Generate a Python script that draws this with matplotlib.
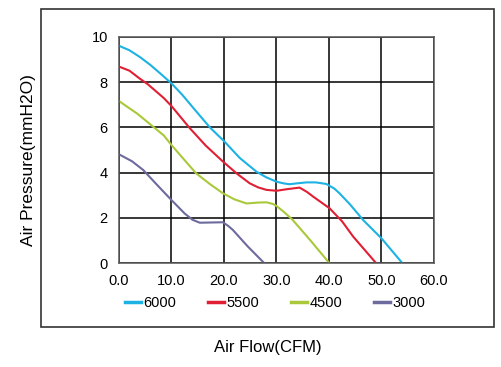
import matplotlib.pyplot as plt
from matplotlib.patches import Rectangle

plt.rcParams['font.family'] = ['Liberation Sans', 'DejaVu Sans']

# fan curves: airflow (CFM) vs pressure (mmH2O)
flow_6000 = [0, 2, 4, 6, 8, 10, 12, 14, 17.3, 20.1, 23, 26.2, 28, 30, 31.5, 32.5, 34, 35.7, 37.5, 39.5, 41, 42, 44, 46.5, 50, 54]
pres_6000 = [9.6, 9.4, 9.1, 8.75, 8.35, 7.94, 7.45, 6.9, 6.0, 5.37, 4.65, 4.04, 3.8, 3.6, 3.52, 3.49, 3.53, 3.57, 3.57, 3.5, 3.3, 3.09, 2.6, 1.91, 1.1, 0]

flow_5500 = [0, 2, 3.9, 5.5, 7, 8.5, 10, 13.5, 16.5, 19.8, 22.5, 24.9, 26.5, 28.1, 30, 32, 34.4, 35.8, 37, 40.1, 42.5, 44.6, 49]
pres_5500 = [8.68, 8.5, 8.16, 7.9, 7.6, 7.3, 6.94, 5.96, 5.2, 4.49, 3.95, 3.53, 3.35, 3.24, 3.2, 3.27, 3.34, 3.15, 2.94, 2.43, 1.85, 1.18, 0]

flow_4500 = [0, 3.5, 6.5, 8.5, 10, 12.5, 14.7, 17.3, 19.8, 22, 24.3, 26.5, 28.1, 29.3, 30, 31.5, 33.1, 36.5, 40.1]
pres_4500 = [7.16, 6.6, 6.03, 5.65, 5.22, 4.55, 3.97, 3.5, 3.09, 2.82, 2.64, 2.68, 2.69, 2.62, 2.53, 2.25, 1.91, 1.0, 0]

flow_3000 = [0, 2.5, 4.6, 7.5, 10, 12.5, 14, 15.4, 17.5, 19.8, 20.8, 21.7, 24.5, 27.7]
pres_3000 = [4.81, 4.5, 4.12, 3.4, 2.79, 2.2, 1.92, 1.79, 1.8, 1.81, 1.65, 1.47, 0.75, 0]

xticks = [0, 10, 20, 30, 40, 50, 60]
yticks = [0, 2, 4, 6, 8, 10]

fig = plt.figure(figsize=(5.02, 3.67), dpi=100)
ax = fig.add_axes([0.237, 0.2826, 0.6275, 0.6174])

ax.plot(flow_6000, pres_6000, color='#1cb2e4', lw=1.5, label='6000')
ax.plot(flow_5500, pres_5500, color='#e01f35', lw=1.5, label='5500')
ax.plot(flow_4500, pres_4500, color='#a9c83a', lw=1.5, label='4500')
ax.plot(flow_3000, pres_3000, color='#6d6a9e', lw=1.5, label='3000')

ax.set_xlim(0, 60)
ax.set_ylim(0, 10)
ax.set_xticks(xticks)
ax.set_xticklabels(['%.1f' % v for v in xticks])
ax.set_yticks(yticks)
ax.grid(True, color='black', lw=1.1)
ax.set_axisbelow(True)
ax.tick_params(length=0, labelsize=10.5, pad=8)
for s in ax.spines.values():
    s.set_color('#555555')
    s.set_linewidth(1.1)

fig.text(0.056, 0.564, 'Air Pressure(mmH2O)', fontsize=12.5, rotation=90, ha='center', va='center')
fig.text(0.533, 0.054, 'Air Flow(CFM)', fontsize=12, ha='center', va='center')

leg = fig.legend(loc='center', bbox_to_anchor=(0.548, 0.174), ncol=4, frameon=False,
                 handlelength=1.1, handletextpad=0.15, columnspacing=2.2, fontsize=10.5)
for h in leg.get_lines():
    h.set_linewidth(2.5)

fig.patches.append(Rectangle((0.0817, 0.109), 0.902, 0.8665, transform=fig.transFigure,
                             fill=False, edgecolor='#333333', lw=1.2))

fig.savefig('out.png', dpi=100)
